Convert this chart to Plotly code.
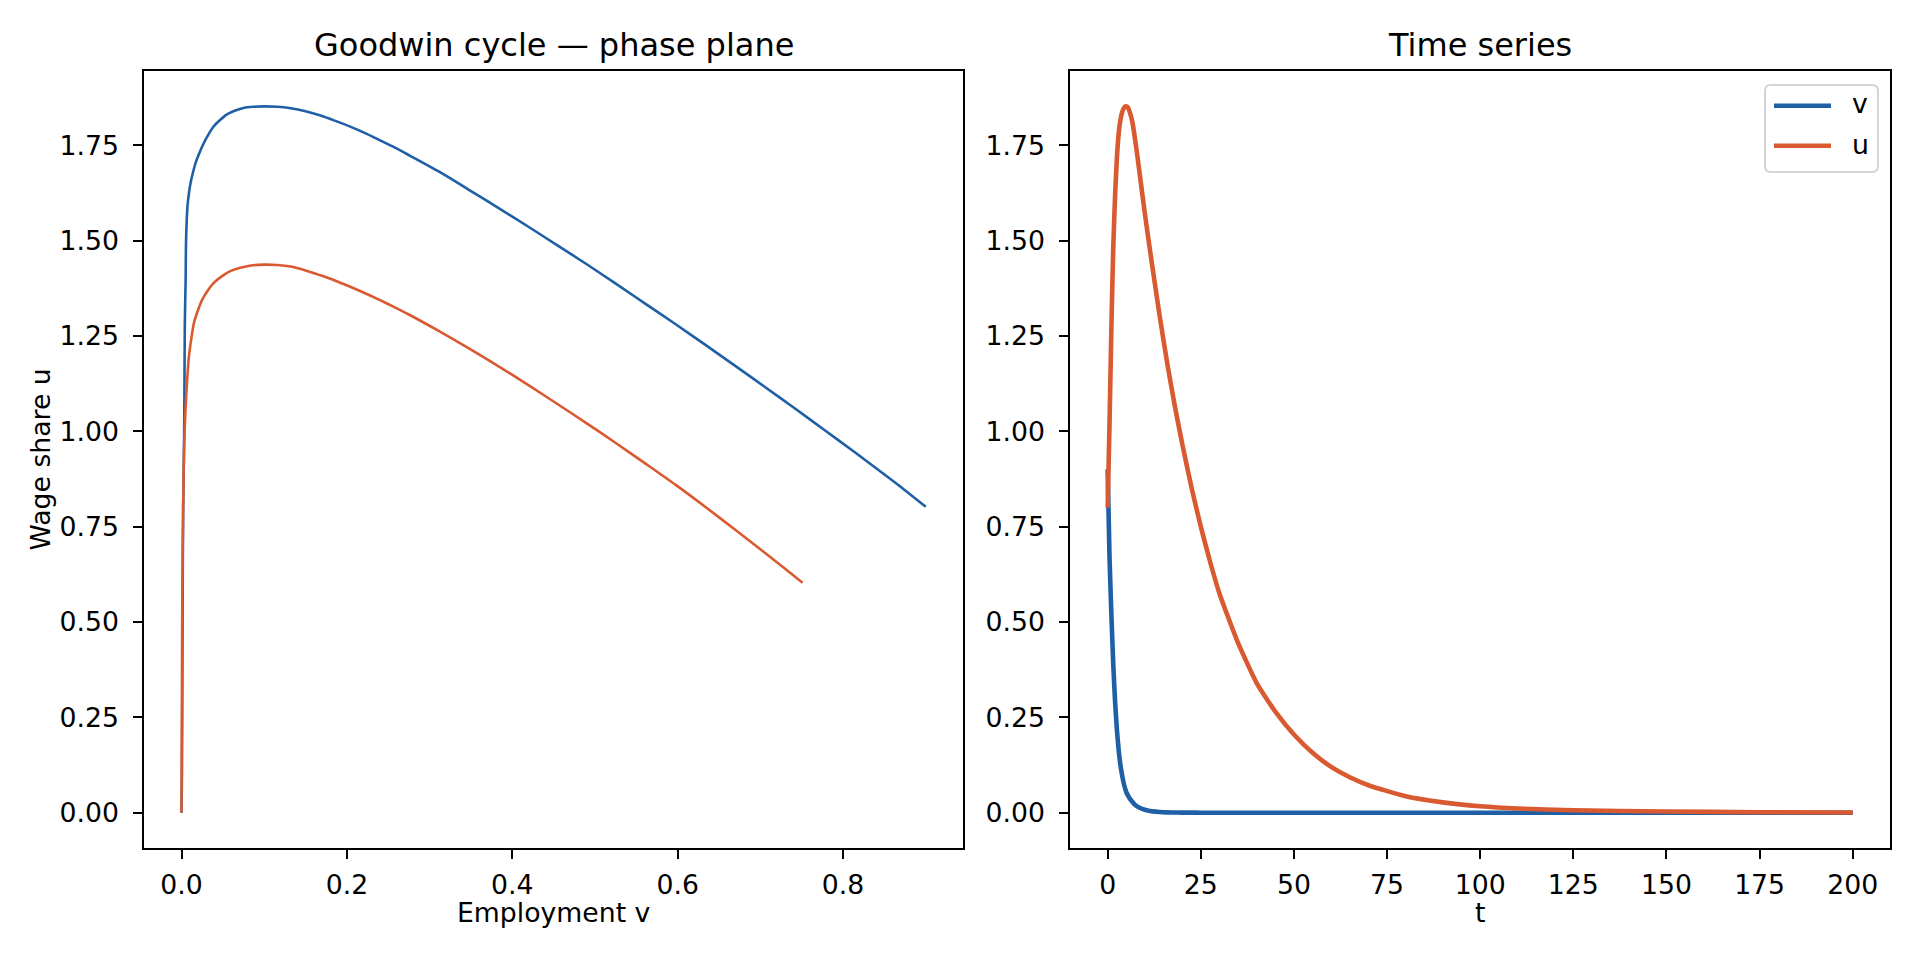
import plotly.graph_objs as go

# phase plane, trajectory 1 (blue) and trajectory 2 (red)
phase_v1 = [0.0, 0.0005, 0.001, 0.0015, 0.002, 0.003, 0.0035, 0.004, 0.005, 0.0055, 0.0072,
            0.009, 0.011, 0.014, 0.017, 0.022, 0.027, 0.033, 0.039, 0.047, 0.055, 0.065,
            0.075, 0.087, 0.100, 0.116, 0.132, 0.150, 0.168, 0.186, 0.204, 0.222, 0.240,
            0.258, 0.276, 0.312, 0.347, 0.383, 0.419, 0.455, 0.490, 0.526, 0.562, 0.598,
            0.634, 0.670, 0.705, 0.741, 0.777, 0.813, 0.848, 0.874, 0.900]
phase_u1 = [0.0, 0.10, 0.35, 0.60, 0.80, 0.95, 1.10, 1.28, 1.40, 1.50, 1.59,
            1.625, 1.652, 1.680, 1.704, 1.732, 1.756, 1.780, 1.800, 1.817, 1.831, 1.841,
            1.848, 1.851, 1.852, 1.851, 1.847, 1.839, 1.828, 1.814, 1.799, 1.782, 1.763,
            1.744, 1.723, 1.680, 1.634, 1.586, 1.537, 1.487, 1.438, 1.386, 1.333, 1.280,
            1.226, 1.171, 1.117, 1.061, 1.004, 0.947, 0.890, 0.847, 0.802]

phase_v2 = [0.0, 0.0005, 0.001, 0.002, 0.003, 0.005, 0.007, 0.009, 0.012, 0.015, 0.020,
            0.025, 0.032, 0.039, 0.049, 0.059, 0.071, 0.084, 0.100, 0.116, 0.132, 0.150,
            0.168, 0.186, 0.204, 0.222, 0.240, 0.258, 0.276, 0.312, 0.347, 0.383, 0.419,
            0.455, 0.490, 0.526, 0.562, 0.598, 0.634, 0.670, 0.705, 0.728, 0.751]
phase_u2 = [0.0, 0.30, 0.60, 0.80, 0.95, 1.066, 1.140, 1.197, 1.245, 1.284, 1.318,
            1.345, 1.370, 1.389, 1.407, 1.420, 1.429, 1.435, 1.437, 1.436, 1.432, 1.422,
            1.409, 1.395, 1.379, 1.362, 1.344, 1.325, 1.305, 1.262, 1.218, 1.171, 1.122,
            1.071, 1.021, 0.968, 0.914, 0.859, 0.801, 0.741, 0.682, 0.643, 0.603]

# time series
t = [0, 0.5, 1, 1.5, 2, 2.5, 3, 3.5, 4, 4.5, 5, 5.5, 6, 6.5, 7, 8, 9, 10, 11, 12, 14, 16,
     18, 20, 22.5, 25, 27.5, 30, 35, 40, 45, 50, 55, 60, 65, 70, 80, 90, 100, 110, 125,
     150, 175, 200]
v_t = [0.90, 0.67, 0.52, 0.39, 0.29, 0.215, 0.16, 0.12, 0.092, 0.07, 0.054, 0.044, 0.036,
       0.030, 0.024, 0.016, 0.011, 0.0075, 0.005, 0.0035, 0.0017, 0.0008,
       0.0004, 0.0002, 0.0001, 0, 0, 0, 0, 0, 0, 0, 0, 0, 0, 0, 0, 0, 0, 0, 0, 0, 0, 0]
u_t = [0.80, 1.02, 1.27, 1.48, 1.62, 1.72, 1.785, 1.82, 1.84, 1.85, 1.852, 1.848, 1.835,
       1.817, 1.79, 1.72, 1.645, 1.57, 1.50, 1.432, 1.30, 1.178,
       1.068, 0.968, 0.853, 0.75, 0.658, 0.575, 0.445, 0.34, 0.265, 0.205, 0.157, 0.12,
       0.093, 0.072, 0.043, 0.027, 0.017, 0.011, 0.0065, 0.003, 0.0012, 0.0005]

yticks = [0.0, 0.25, 0.5, 0.75, 1.0, 1.25, 1.5, 1.75]
vticks = [0.0, 0.2, 0.4, 0.6, 0.8]
tticks = [0, 25, 50, 75, 100, 125, 150, 175, 200]

blue = "#1f5fa6"
red = "#d95a30"
font = "DejaVu Sans"

# page has an 8px body margin, so the figure is 1904x944 placed at (8, 8)
W, H, OFF = 1904, 944, 8


def px(X):
    return (X - OFF) / W


def py(Y):
    return 1 - (Y - OFF) / H


traces = [
    go.Scatter(x=phase_v1, y=phase_u1, mode="lines",
               line=dict(color=blue, width=2.6, shape="spline", smoothing=0.8),
               showlegend=False, xaxis="x", yaxis="y"),
    go.Scatter(x=phase_v2, y=phase_u2, mode="lines",
               line=dict(color=red, width=2.6, shape="spline", smoothing=0.8),
               showlegend=False, xaxis="x", yaxis="y"),
    go.Scatter(x=t, y=v_t, mode="lines", name="v",
               line=dict(color=blue, width=4.6, shape="spline", smoothing=0.5),
               showlegend=False, xaxis="x2", yaxis="y2"),
    go.Scatter(x=t, y=u_t, mode="lines", name="u",
               line=dict(color=red, width=4.6, shape="spline", smoothing=0.5),
               showlegend=False, xaxis="x2", yaxis="y2"),
]

axis_style = dict(showline=True, mirror=True, linecolor="black", linewidth=2.1,
                  ticks="outside", ticklen=9, tickwidth=2.1, tickcolor="black",
                  showgrid=False, zeroline=False,
                  tickfont=dict(family=font, size=26.7, color="black"))

xd1 = [px(144.3), px(963)]
xd2 = [px(1070.4), px(1890)]
yd = [py(848), py(71.3)]

# legend drawn by hand, matplotlib style
lx0, lx1, ly0, ly1, r = 1765, 1878, 85, 172, 6
leg_path = ("M {a},{b} L {c},{b} Q {d},{b} {d},{e} L {d},{f} Q {d},{g} {c},{g} "
            "L {a},{g} Q {h},{g} {h},{f} L {h},{e} Q {h},{b} {a},{b} Z").format(
    a=px(lx0 + r), b=py(ly0), c=px(lx1 - r), d=px(lx1), e=py(ly0 + r),
    f=py(ly1 - r), g=py(ly1), h=px(lx0))

shapes = [
    dict(type="path", path=leg_path, xref="paper", yref="paper",
         fillcolor="rgba(255,255,255,0.8)", line=dict(color="#d4d4d4", width=2)),
    dict(type="line", xref="paper", yref="paper", x0=px(1774), x1=px(1831),
         y0=py(105.7), y1=py(105.7), line=dict(color=blue, width=4.6)),
    dict(type="line", xref="paper", yref="paper", x0=px(1774), x1=px(1831),
         y0=py(145.7), y1=py(145.7), line=dict(color=red, width=4.6)),
]


def label(text, X, Y, size, angle=0, xanchor="center"):
    return dict(text=text, x=px(X), y=py(Y), xref="paper", yref="paper", showarrow=False,
                xanchor=xanchor, yanchor="middle", textangle=angle,
                font=dict(family=font, size=size, color="black"))


annotations = [
    label("Goodwin cycle — phase plane", (144.3 + 963) / 2, 45, 32),
    label("Time series", (1070.4 + 1890) / 2, 45, 32),
    label("Employment v", (144.3 + 963) / 2, 912, 26.7),
    label("t", (1070.4 + 1890) / 2, 912, 26.7),
    label("Wage share u", 40, 459.5, 26.7, angle=-90),
    label("v", 1850, 104, 26.7, xanchor="left"),
    label("u", 1850, 144, 26.7, xanchor="left"),
]

layout = go.Layout(
    width=W, height=H,
    margin=dict(l=0, r=0, t=0, b=0),
    paper_bgcolor="white", plot_bgcolor="white",
    font=dict(family=font, color="black"),
    showlegend=False,
    xaxis=dict(domain=xd1, range=[-0.045, 0.945], tickvals=vticks, tickformat=".1f",
               anchor="y", ticklabelstandoff=3, **axis_style),
    yaxis=dict(domain=yd, range=[-0.0926, 1.944], tickvals=yticks, tickformat=".2f",
               anchor="x", ticklabelstandoff=9, **axis_style),
    xaxis2=dict(domain=xd2, range=[-10, 210], tickvals=tticks, anchor="y2",
                ticklabelstandoff=3, **axis_style),
    yaxis2=dict(domain=yd, range=[-0.0926, 1.944], tickvals=yticks, tickformat=".2f",
                anchor="x2", ticklabelstandoff=9, **axis_style),
    shapes=shapes,
    annotations=annotations,
)

fig = go.Figure(data=traces, layout=layout)
fig.write_html("out.html")
